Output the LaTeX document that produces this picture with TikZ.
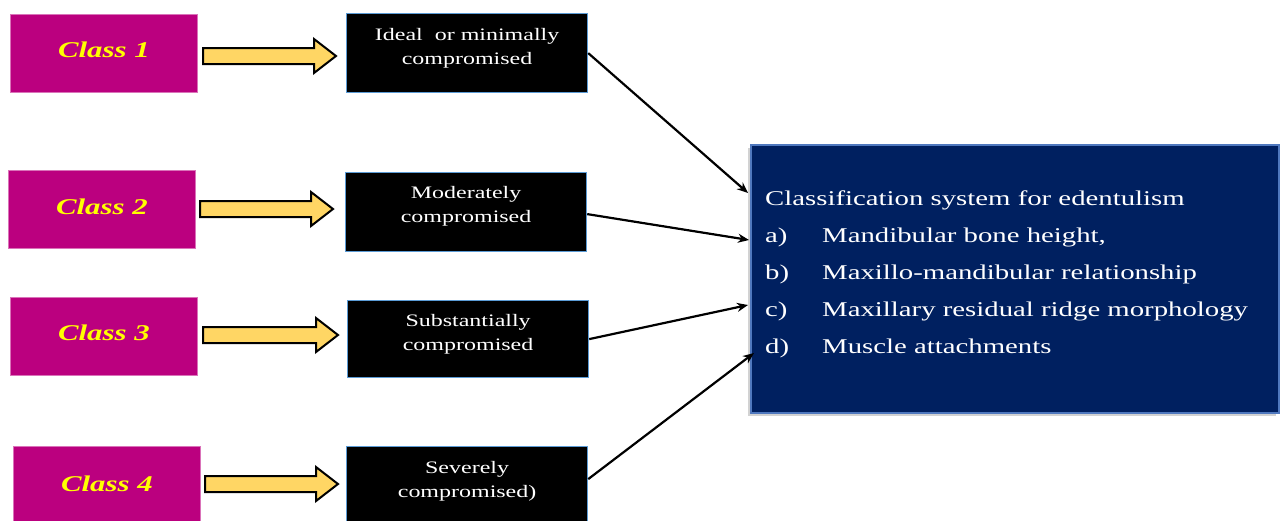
\documentclass[tikz,border=0pt]{standalone}
\usepackage{fontspec}
\setmainfont[FakeStretch=1.37]{Liberation Serif}
\usetikzlibrary{arrows.meta,shadows,calc}
\definecolor{mag}{RGB}{187,0,127}
\definecolor{navy}{RGB}{0,32,96}
\definecolor{navyedge}{RGB}{79,120,190}
\definecolor{blkedge}{RGB}{91,155,213}
\definecolor{yarr}{RGB}{255,214,100}
\definecolor{ytxt}{RGB}{255,255,0}
\begin{document}
\begin{tikzpicture}[x=1pt,y=-1pt,
  classbox/.style={draw=mag!55!white, line width=0.8pt, fill=mag, minimum width=187pt, minimum height=78pt, inner sep=0pt, anchor=north west},
  classtxt/.style={text=ytxt, font=\fontsize{22.5}{26}\selectfont\bfseries\itshape},
  blkbox/.style={draw=blkedge, line width=1.2pt, fill=black, minimum width=241pt, minimum height=79pt, inner sep=0pt, anchor=north west},
  blktxt/.style={text=white, align=center, font=\fontsize{17.5}{24}\selectfont},
  bluebox/.style={draw=navyedge, line width=1.8pt, fill=navy, minimum width=528pt, minimum height=268pt, inner sep=0pt, anchor=north west,
     drop shadow={shadow xshift=-3pt, shadow yshift=-3pt, opacity=0.35, fill=gray}},
  bluetxt/.style={text=white, anchor=base west, inner sep=0pt, font=\fontsize{21}{26}\selectfont},
  yarrow/.style={draw=black, line width=2pt, fill=yarr, line join=miter},
  conn/.style={draw=black, line width=2.2pt, -{Stealth[length=11pt,width=9pt]}}
]
\clip (0,0) rectangle (1281,520);
\fill[white] (0,0) rectangle (1281,520);

% class boxes
\node[classbox] (c1) at (10,14) {};
\node[classbox] (c2) at (8,170) {};
\node[classbox] (c3) at (10,297) {};
\node[classbox, minimum height=80pt] (c4) at (13,446) {};
\node[classtxt] (t1) at ($(c1.center)+(0,-4)$) {Class 1};
\node[classtxt] (t2) at ($(c2.center)+(0,-3)$) {Class 2};
\node[classtxt] (t3) at ($(c3.center)+(0,-4)$) {Class 3};
\node[classtxt] (t4) at ($(c4.center)+(0,-3)$) {Class 4};

% black boxes
\node[blkbox] (b1) at (346,13) {};
\node[blkbox] (b2) at (345,172) {};
\node[blkbox, minimum height=77pt] (b3) at (347,300) {};
\node[blkbox] (b4) at (346,446) {};
\node[blktxt] (bt1) at ($(b1.center)+(0,-5)$) {Ideal\ \ or minimally\\compromised};
\node[blktxt] (bt2) at ($(b2.center)+(0,-6)$) {Moderately\\compromised};
\node[blktxt] (bt3) at ($(b3.center)+(0,-5)$) {Substantially\\compromised};
\node[blktxt] (bt4) at ($(b4.center)+(0,-5)$) {Severely\\compromised)};

% yellow block arrows
\foreach \x/\y/\l in {203/56/133, 200/209/133, 203/335/135, 205/484/133}{
  \draw[yarrow] (\x,\y-8) -- (\x+\l-22,\y-8) -- (\x+\l-22,\y-17) -- (\x+\l,\y) -- (\x+\l-22,\y+17) -- (\x+\l-22,\y+8) -- (\x,\y+8) -- cycle;
}

% blue box
\node[bluebox] (blue) at (750,144) {};
\node[bluetxt] (h) at (765,205) {Classification system for edentulism};
\node[bluetxt] (la) at (765,242) {a)};
\node[bluetxt] (ia) at (822,242) {Mandibular bone height,};
\node[bluetxt] (lb) at (765,279) {b)};
\node[bluetxt] (ib) at (822,279) {Maxillo-mandibular relationship};
\node[bluetxt] (lc) at (765,316) {c)};
\node[bluetxt] (ic) at (822,316) {Maxillary residual ridge morphology};
\node[bluetxt] (ld) at (765,353) {d)};
\node[bluetxt] (id) at (822,353) {Muscle attachments};

% connector ends
\coordinate (e1) at ($(blue.north west)+(-2,49)$);
\coordinate (e2) at ($(blue.north west)+(-1,96)$);
\coordinate (e3) at ($(blue.north west)+(-2,161)$);
\coordinate (e4) at ($(blue.north west)+(4,209)$);
\draw[conn] (b1.east) -- (e1);
\draw[conn] ($(b2.east)+(0,2)$) -- (e2);
\draw[conn] (b3.east) -- (e3);
\draw[conn] ($(b4.east)+(0,-7)$) -- (e4);
\end{tikzpicture}
\end{document}
